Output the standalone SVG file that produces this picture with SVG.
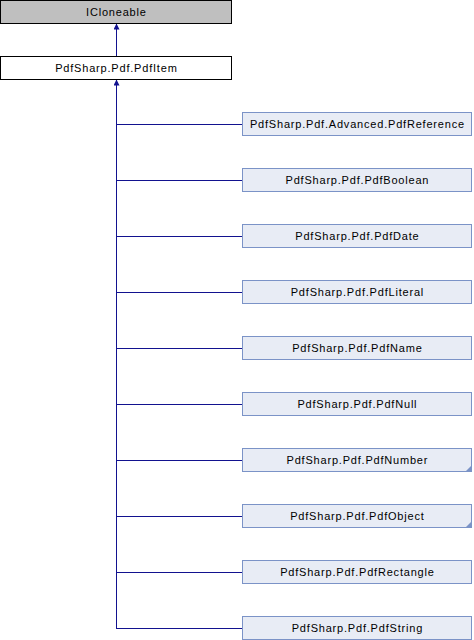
<svg xmlns="http://www.w3.org/2000/svg" width="474" height="640" viewBox="0 0 474 640">
<defs>
<style>
.gray{fill:#bfbfbf;stroke:#000;stroke-width:1}
.white{fill:#fff;stroke:#000;stroke-width:1}
.cls{fill:#e8ecf5;stroke:#7b93c7;stroke-width:1}
.lbl{font-family:"Liberation Sans",Arial,sans-serif;font-size:11px;letter-spacing:0.8px;fill:#000;text-anchor:middle}
.edge{fill:none;stroke:#12128f;stroke-width:1}
.fold{fill:#7b93c7}
</style>
<marker id="ah" markerWidth="6" markerHeight="6" refX="5.5" refY="3" orient="auto" markerUnits="userSpaceOnUse">
<path d="M0,0 L6,3 L0,6 Z" fill="#12128f"/>
</marker>
</defs>
<g id="connectors">
<path class="edge" d="M116.5,56 V24" marker-end="url(#ah)"/>
<path class="edge" d="M116.5,629 V80" marker-end="url(#ah)"/>
<path class="edge" d="M116.5,124.5 H242"/>
<path class="edge" d="M116.5,180.5 H242"/>
<path class="edge" d="M116.5,236.5 H242"/>
<path class="edge" d="M116.5,292.5 H242"/>
<path class="edge" d="M116.5,348.5 H242"/>
<path class="edge" d="M116.5,404.5 H242"/>
<path class="edge" d="M116.5,460.5 H242"/>
<path class="edge" d="M116.5,516.5 H242"/>
<path class="edge" d="M116.5,572.5 H242"/>
<path class="edge" d="M116.5,628.5 H242"/>
</g>
<g id="ICloneable">
<rect class="gray" x="0.5" y="0.5" width="231" height="23"/>
<text class="lbl" x="116.4" y="15.5">ICloneable</text>
</g>
<g id="PdfItem">
<rect class="white" x="0.5" y="56.5" width="231" height="23"/>
<text class="lbl" x="116.4" y="71.5">PdfSharp.Pdf.PdfItem</text>
</g>
<g id="PdfReference">
<rect class="cls" x="242.5" y="112.5" width="229" height="23"/>
<text class="lbl" x="357.4" y="127.5">PdfSharp.Pdf.Advanced.PdfReference</text>
</g>
<g id="PdfBoolean">
<rect class="cls" x="242.5" y="168.5" width="229" height="23"/>
<text class="lbl" x="357.4" y="183.5">PdfSharp.Pdf.PdfBoolean</text>
</g>
<g id="PdfDate">
<rect class="cls" x="242.5" y="224.5" width="229" height="23"/>
<text class="lbl" x="357.4" y="239.5">PdfSharp.Pdf.PdfDate</text>
</g>
<g id="PdfLiteral">
<rect class="cls" x="242.5" y="280.5" width="229" height="23"/>
<text class="lbl" x="357.4" y="295.5">PdfSharp.Pdf.PdfLiteral</text>
</g>
<g id="PdfName">
<rect class="cls" x="242.5" y="336.5" width="229" height="23"/>
<text class="lbl" x="357.4" y="351.5">PdfSharp.Pdf.PdfName</text>
</g>
<g id="PdfNull">
<rect class="cls" x="242.5" y="392.5" width="229" height="23"/>
<text class="lbl" x="357.4" y="407.5">PdfSharp.Pdf.PdfNull</text>
</g>
<g id="PdfNumber">
<rect class="cls" x="242.5" y="448.5" width="229" height="23"/>
<path class="fold" d="M472,465 V472 H465 Z"/>
<text class="lbl" x="357.4" y="463.5">PdfSharp.Pdf.PdfNumber</text>
</g>
<g id="PdfObject">
<rect class="cls" x="242.5" y="504.5" width="229" height="23"/>
<path class="fold" d="M472,521 V528 H465 Z"/>
<text class="lbl" x="357.4" y="519.5">PdfSharp.Pdf.PdfObject</text>
</g>
<g id="PdfRectangle">
<rect class="cls" x="242.5" y="560.5" width="229" height="23"/>
<text class="lbl" x="357.4" y="575.5">PdfSharp.Pdf.PdfRectangle</text>
</g>
<g id="PdfString">
<rect class="cls" x="242.5" y="616.5" width="229" height="23"/>
<text class="lbl" x="357.4" y="631.5">PdfSharp.Pdf.PdfString</text>
</g>
</svg>
